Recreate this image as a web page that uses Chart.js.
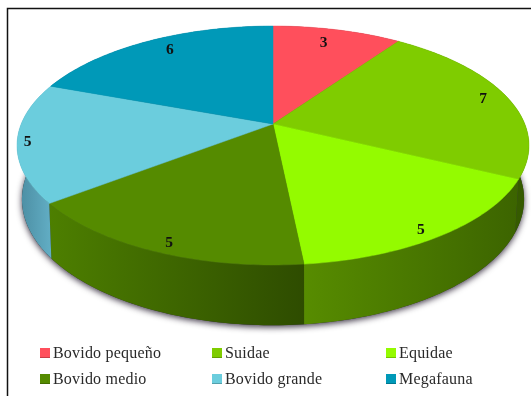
<!DOCTYPE html>
<html>
<head>
<meta charset="utf-8">
<style>
  html, body { margin: 0; padding: 0; background: #fff; }
  canvas { display: block; filter: blur(0.4px); }
</style>
<script src="https://cdn.jsdelivr.net/npm/chart.js@4"></script>
</head>
<body>
<canvas id="pie-chart" width="531" height="396"></canvas>
<script>
const categories = ['Bovido pequeño', 'Suidae', 'Equidae', 'Bovido medio', 'Bovido grande', 'Megafauna'];
const values = [3, 7, 5, 5, 5, 6];
const faceColors = ['#ff4f5c', '#7fcc00', '#94fb00', '#558b00', '#6bcddd', '#0099b8'];
const wallLeft = ['#7a2a30', '#3d6600', '#578c00', '#4d7f00', '#4a8ba0', '#005f73'];
const wallRight = ['#7a2a30', '#355a00', '#3c6400', '#2e4c00', '#66b4cb', '#005f73'];
const labelRadius = [0.85, 0.90, 0.93, 0.93, 0.96, 0.87];
const labelTurn = [-1.7, -0.5, 2, -1.2, 0, 2.6]; // degrees off the slice middle

// perspective of the top and bottom discs, u/v are on the unit circle
const topDisc = { x: 273, y: 124, a: 251.8, b: 115.6, k: 0.18 };
const bottomDisc = { x: 273, y: 174, a: 246, b: 121, k: 0.2 };

function project(disc, angle, r) {
    const u = Math.sin(angle + Math.PI / 2) * r;
    const v = Math.cos(angle + Math.PI / 2) * r;
    const w = 1 + disc.k * v;
    return { x: disc.x + disc.a * u / w, y: disc.y - disc.b * v / w };
}

function rim(disc, start, end) {
    const steps = Math.max(2, Math.ceil((end - start) * 60));
    const pts = [];
    for (let i = 0; i <= steps; i++) {
        pts.push(project(disc, start + (end - start) * i / steps, 1));
    }
    return pts;
}

function tracePoints(ctx, pts) {
    pts.forEach((p, i) => i ? ctx.lineTo(p.x, p.y) : ctx.moveTo(p.x, p.y));
}

const perspectivePie = {
    id: 'perspectivePie',
    beforeDatasetDraw(chart, args) {
        const ctx = chart.ctx;
        const arcs = chart.getDatasetMeta(args.index).data;

        // shadow under the whole drum
        ctx.save();
        ctx.shadowColor = 'rgba(20,10,30,0.8)';
        ctx.shadowBlur = 6;
        ctx.shadowOffsetY = 2;
        ctx.fillStyle = '#333';
        ctx.beginPath();
        tracePoints(ctx, rim(bottomDisc, 0, Math.PI * 2));
        ctx.fill();
        ctx.restore();

        // side walls
        arcs.forEach((arc, i) => {
            const top = rim(topDisc, arc.startAngle, arc.endAngle);
            const bottom = rim(bottomDisc, arc.startAngle, arc.endAngle);
            const xs = top.concat(bottom).map(p => p.x);
            const grad = ctx.createLinearGradient(Math.min(...xs), 0, Math.max(...xs), 0);
            grad.addColorStop(0, wallLeft[i]);
            grad.addColorStop(1, wallRight[i]);
            ctx.fillStyle = grad;
            ctx.beginPath();
            tracePoints(ctx, top.concat(bottom.reverse()));
            ctx.closePath();
            ctx.fill();
        });

        // top face
        arcs.forEach((arc, i) => {
            ctx.fillStyle = faceColors[i];
            ctx.strokeStyle = faceColors[i];
            ctx.lineWidth = 0.5;
            ctx.beginPath();
            tracePoints(ctx, [{ x: topDisc.x, y: topDisc.y }].concat(rim(topDisc, arc.startAngle, arc.endAngle)));
            ctx.closePath();
            ctx.fill();
            ctx.stroke();
        });

        // value labels
        ctx.fillStyle = '#111';
        ctx.font = 'bold 15.5px "Liberation Serif"';
        ctx.textAlign = 'center';
        ctx.textBaseline = 'middle';
        arcs.forEach((arc, i) => {
            const mid = (arc.startAngle + arc.endAngle) / 2 + labelTurn[i] * Math.PI / 180;
            const p = project(topDisc, mid, labelRadius[i]);
            ctx.fillText(String(values[i]), p.x, p.y + 1);
        });
        return false;
    },
    afterDraw(chart) {
        const ctx = chart.ctx;

        // frame, only left and top show
        ctx.save();
        ctx.strokeStyle = '#111';
        ctx.lineWidth = 1.5;
        ctx.beginPath();
        ctx.moveTo(7.5, 396);
        ctx.lineTo(7.5, 8.5);
        ctx.lineTo(531, 8.5);
        ctx.stroke();

        // legend in three columns
        const colX = [40, 212, 386];
        const rowY = [348, 374];
        ctx.font = '16px "Liberation Serif"';
        ctx.letterSpacing = '0.2px';
        ctx.textAlign = 'left';
        ctx.textBaseline = 'alphabetic';
        categories.forEach((name, i) => {
            const x = colX[i % 3];
            const y = rowY[Math.floor(i / 3)];
            ctx.fillStyle = faceColors[i];
            ctx.fillRect(x, y, 10, 10);
            ctx.fillStyle = 'rgba(0,0,0,0.22)';
            ctx.fillRect(x, y + 9, 10, 1);
            ctx.fillStyle = '#2a2a2a';
            ctx.fillText(name, x + 13, y + 10);
        });
        ctx.restore();
    }
};

new Chart(document.getElementById('pie-chart').getContext('2d'), {
    type: 'pie',
    data: {
        labels: categories,
        datasets: [{ data: values, backgroundColor: faceColors, borderWidth: 0 }]
    },
    options: {
        responsive: false,
        animation: false,
        plugins: { legend: { display: false }, tooltip: { enabled: false } }
    },
    plugins: [perspectivePie]
});
</script>
</body>
</html>
